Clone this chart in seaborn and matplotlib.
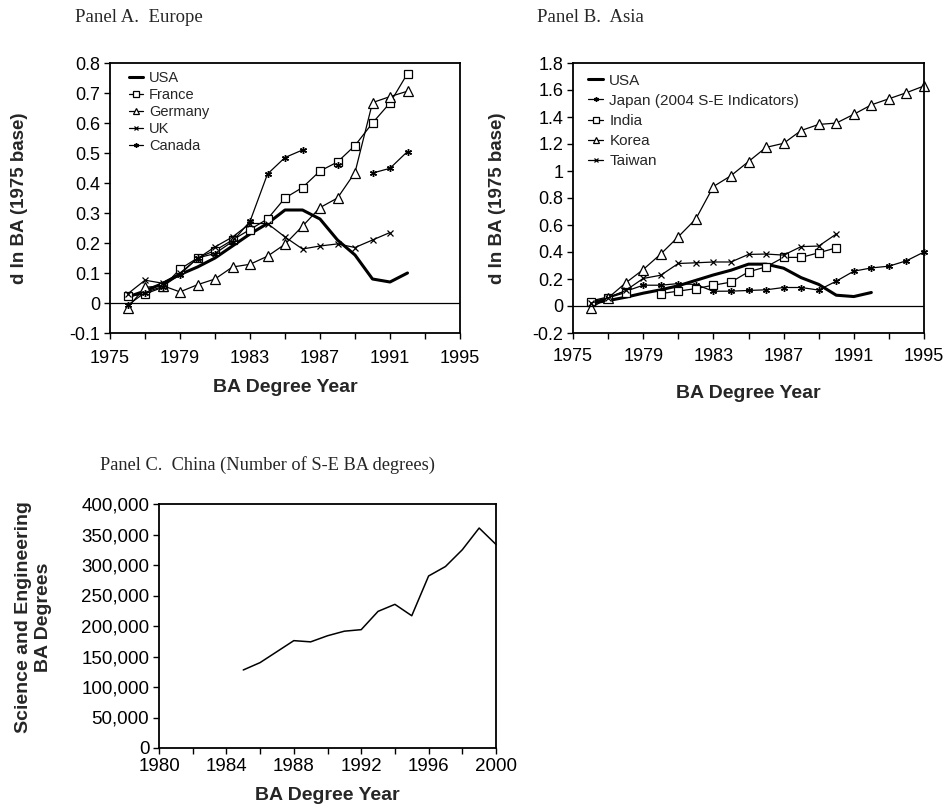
import numpy as np
import pandas as pd
import matplotlib
matplotlib.use("Agg")
import matplotlib.pyplot as plt
from matplotlib.lines import Line2D
from matplotlib.ticker import FuncFormatter
import seaborn as sns

# ---------------- data ----------------
years_eu = list(range(1976, 1993))
usa = [0.02, 0.04, 0.065, 0.095, 0.12, 0.15, 0.19, 0.23, 0.265, 0.31, 0.31, 0.28, 0.21, 0.16, 0.08, 0.07, 0.10]
france = [0.022, 0.03, 0.052, 0.113, 0.15, 0.175, 0.21, 0.245, 0.28, 0.35, 0.385, 0.44, 0.47, 0.525, 0.60, 0.667, 0.765]
germany = [-0.016, 0.052, 0.058, 0.037, 0.061, 0.08, 0.12, 0.129, 0.156, 0.196, 0.256, 0.318, 0.35, 0.435, 0.668, 0.688, 0.706]
uk = [0.03, 0.076, 0.066, 0.10, 0.148, 0.187, 0.22, 0.265, 0.265, 0.22, 0.18, 0.19, 0.197, 0.185, 0.21, 0.235, np.nan]
canada = [-0.008, 0.035, 0.055, 0.095, 0.15, 0.165, 0.205, 0.272, 0.43, 0.485, 0.51, np.nan, 0.46, np.nan, 0.433, 0.449, 0.505]

years_as = list(range(1976, 1996))
usa_b = usa + [np.nan, np.nan, np.nan]
japan = [0.037, 0.067, 0.109, 0.154, 0.154, 0.166, 0.159, 0.109, 0.11, 0.115, 0.12, 0.137, 0.137, 0.118, 0.184, 0.258, 0.282, 0.295, 0.335, 0.40]
india = [0.03, 0.06, 0.10, np.nan, 0.092, 0.11, 0.129, 0.154, 0.177, 0.253, 0.29, 0.36, 0.36, 0.394, 0.431,
         np.nan, np.nan, np.nan, np.nan, np.nan]
korea = [-0.015, 0.06, 0.171, 0.27, 0.385, 0.513, 0.645, 0.885, 0.965, 1.07, 1.175, 1.205, 1.30, 1.345, 1.355,
         1.42, 1.49, 1.535, 1.58, 1.63]
taiwan = [0.02, 0.06, 0.115, 0.204, 0.228, 0.315, 0.32, 0.326, 0.326, 0.382, 0.385, 0.377, 0.44, 0.444, 0.533,
          np.nan, np.nan, np.nan, np.nan, np.nan]

years_cn = list(range(1985, 2001))
china = [127900, 140000, 158000, 176000, 174000, 184000, 191500, 194000, 224000, 235500, 216800,
         282000, 297500, 325000, 360600, 333700]

# ---------------- style ----------------
sns.set_theme(style="white")
plt.rcParams['font.family'] = ['Liberation Sans', 'DejaVu Sans']
plt.rcParams['axes.unicode_minus'] = False

fig = plt.figure(figsize=(9.48, 8.10), dpi=100)
axA = fig.add_axes([110/948, 1-333/810, 350/948, 270/810])
axB = fig.add_axes([573/948, 1-333/810, 351/948, 270/810])
axC = fig.add_axes([159/948, 1-748/810, 337/948, 244/810])

SER = dict(square=dict(marker='s', markerfacecolor='white', markeredgecolor='black', markersize=6, markeredgewidth=0.9),
           tri=dict(marker='^', markerfacecolor='white', markeredgecolor='black', markersize=6.5, markeredgewidth=0.9),
           x=dict(marker='x', markeredgecolor='black', markersize=5, markeredgewidth=0.9),
           ast=dict(marker=(6, 2, 0), markeredgecolor='black', markersize=5, markeredgewidth=1.0),
           thick=dict(marker=None))


def draw(ax, xs, ys, style, lw=0.9):
    xs = np.asarray(xs, dtype=float)
    ys = np.asarray(ys, dtype=float)
    valid = ~np.isnan(ys)
    seg = np.cumsum(~valid)
    for s in np.unique(seg[valid]):
        m = valid & (seg == s)
        df = pd.DataFrame({'x': xs[m], 'y': ys[m]})
        sns.lineplot(data=df, x='x', y='y', ax=ax, color='black', linewidth=lw,
                     legend=False, clip_on=False, **SER[style])


def leg_handle(style, lw=0.9):
    kw = dict(SER[style])
    if kw.get('marker') is not None:
        kw['markersize'] = kw['markersize'] * 0.65
    return Line2D([], [], color='black', linewidth=lw, **kw)


def fmt_num(v, pos):
    v = round(v, 2)
    return f"{v:g}"


def style_axes(ax, fs):
    for sp in ax.spines.values():
        sp.set_visible(True)
        sp.set_color('black')
        sp.set_linewidth(1.3)
    ax.tick_params(axis='both', which='both', direction='out', length=4, width=1,
                   colors='black', labelsize=fs, left=True, bottom=True)
    ax.grid(False)


# ---------------- Panel A ----------------
draw(axA, years_eu, usa, 'thick', lw=2.2)
draw(axA, years_eu, france, 'square')
draw(axA, years_eu, germany, 'tri')
draw(axA, years_eu, uk, 'x')
draw(axA, years_eu, canada, 'ast')
axA.axhline(0, color='black', linewidth=0.9)
axA.set_xlim(1975, 1995)
axA.set_ylim(-0.1, 0.8)
axA.set_xticks(range(1975, 1996, 2))
axA.set_xticklabels([str(y) if (y - 1975) % 4 == 0 else '' for y in range(1975, 1996, 2)])
axA.set_yticks(np.round(np.arange(-0.1, 0.81, 0.1), 2))
axA.yaxis.set_major_formatter(FuncFormatter(fmt_num))
style_axes(axA, 13)
axA.tick_params(axis='x', pad=8)
axA.tick_params(axis='y', pad=3)
axA.set_xlabel('BA Degree Year', fontsize=14, fontweight='bold')
axA.set_ylabel('d In BA (1975 base)', fontsize=13.5, fontweight='bold')
axA.xaxis.set_label_coords(0.5, -0.172)
axA.yaxis.set_label_coords(-0.235, 0.5)
axA.legend(handles=[leg_handle('thick', 2.2), leg_handle('square'), leg_handle('tri'),
                    leg_handle('x'), leg_handle('ast')],
           labels=['USA', 'France', 'Germany', 'UK', 'Canada'],
           loc='upper left', bbox_to_anchor=(0.03, 1.0), frameon=False, fontsize=10.5,
           handlelength=1.0, handletextpad=0.4, labelspacing=0.2, borderaxespad=0.15)

# ---------------- Panel B ----------------
draw(axB, years_as, usa_b, 'thick', lw=2.2)
draw(axB, years_as, japan, 'ast')
draw(axB, years_as, india, 'square')
draw(axB, years_as, korea, 'tri')
draw(axB, years_as, taiwan, 'x')
axB.axhline(0, color='black', linewidth=0.9)
axB.set_xlim(1975, 1995)
axB.set_ylim(-0.2, 1.8)
axB.set_xticks(range(1975, 1996, 2))
axB.set_xticklabels([str(y) if (y - 1975) % 4 == 0 else '' for y in range(1975, 1996, 2)])
axB.set_yticks(np.round(np.arange(-0.2, 1.81, 0.2), 2))
axB.yaxis.set_major_formatter(FuncFormatter(fmt_num))
style_axes(axB, 13)
axB.tick_params(axis='x', pad=7)
axB.tick_params(axis='y', pad=3)
axB.set_xlabel('BA Degree Year', fontsize=14, fontweight='bold')
axB.set_ylabel('d In BA (1975 base)', fontsize=13.5, fontweight='bold')
axB.xaxis.set_label_coords(0.5, -0.193)
axB.yaxis.set_label_coords(-0.19, 0.5)
axB.legend(handles=[leg_handle('thick', 2.2), leg_handle('ast'), leg_handle('square'),
                    leg_handle('tri'), leg_handle('x')],
           labels=['USA', 'Japan (2004 S-E Indicators)', 'India', 'Korea', 'Taiwan'],
           loc='upper left', bbox_to_anchor=(0.012, 1.0), frameon=False, fontsize=11,
           handlelength=1.0, handletextpad=0.4, labelspacing=0.4, borderaxespad=0.3)

# ---------------- Panel C ----------------
draw(axC, years_cn, china, 'thick', lw=1.1)
axC.set_xlim(1980, 2000)
axC.set_ylim(0, 400000)
axC.set_xticks(range(1980, 2001, 2))
axC.set_xticklabels([str(y) if (y - 1980) % 4 == 0 else '' for y in range(1980, 2001, 2)])
axC.set_yticks(range(0, 400001, 50000))
axC.yaxis.set_major_formatter(FuncFormatter(lambda v, p: f"{v:,.0f}"))
style_axes(axC, 13.5)
axC.tick_params(axis='x', pad=3)
axC.tick_params(axis='y', pad=3)
axC.set_xlabel('BA Degree Year', fontsize=14, fontweight='bold')
axC.set_ylabel('Science and Engineering\nBA Degrees', fontsize=14, fontweight='bold', linespacing=1.2)
axC.xaxis.set_label_coords(0.5, -0.16)
axC.yaxis.set_label_coords(-0.318, 0.535)

# ---------------- titles ----------------
serif = ['Liberation Serif', 'DejaVu Serif']
fig.text(75/948, 1-17/810, 'Panel A.  Europe', family=serif, fontsize=13.5, va='center', ha='left')
fig.text(537/948, 1-17/810, 'Panel B.  Asia', family=serif, fontsize=13.5, va='center', ha='left')
fig.text(100/948, 1-465/810, 'Panel C.  China (Number of S-E BA degrees)', family=serif, fontsize=13.2,
         va='center', ha='left')

fig.savefig('out.png', dpi=100)
